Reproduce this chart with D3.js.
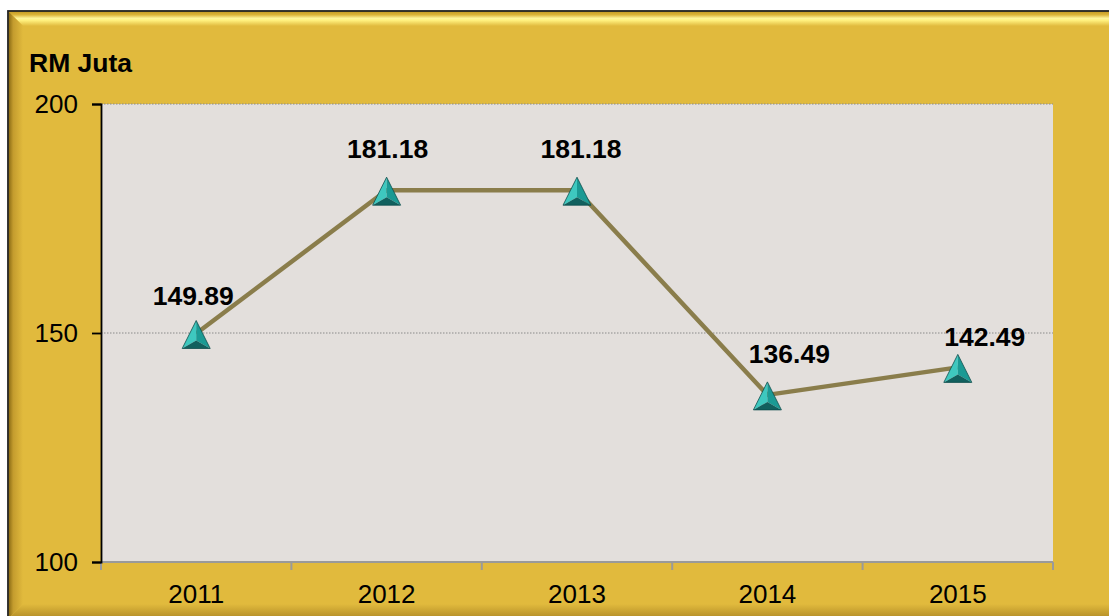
<!DOCTYPE html>
<html>
<head>
<meta charset="utf-8">
<script src="https://cdn.jsdelivr.net/npm/d3@7"></script>
<style>
  body { margin: 0; background: #ffffff; }
  svg text { font-family: "Liberation Sans", Arial, sans-serif; fill: #000; }
</style>
</head>
<body>
<div id="chart"></div>
<script>
// data
const YEARS = ["2011", "2012", "2013", "2014", "2015"];
const VALUES = [149.89, 181.18, 181.18, 136.49, 142.49];
const Y_TICKS = [100, 150, 200];
const Y_LABEL = "RM Juta";

const SVG_WIDTH = 1109;
const SVG_HEIGHT = 616;
const PLOT_LEFT = 101;
const PLOT_RIGHT = 1053;
const PLOT_TOP = 104;
const PLOT_BOTTOM = 562;
const GOLD = "#e1ba3d";

const svg = d3.select("#chart")
  .append("svg")
  .attr("width", SVG_WIDTH)
  .attr("height", SVG_HEIGHT);

const defs = svg.append("defs");

function linGrad(id, x2, y2, stops) {
  const g = defs.append("linearGradient")
    .attr("id", id)
    .attr("x1", 0).attr("y1", 0)
    .attr("x2", x2).attr("y2", y2);
  stops.forEach(s => g.append("stop").attr("offset", s[0]).attr("stop-color", s[1]));
}
linGrad("topBevel", 0, 1, [[0, "#c99f26"], [0.2, "#dcb43a"], [0.45, "#fff59a"], [0.6, "#fff07e"], [1, GOLD]]);
linGrad("leftBevel", 1, 0, [[0, "#8f6f16"], [0.3, "#c49c2e"], [1, GOLD]]);
linGrad("bottomBevel", 0, 1, [[0, GOLD], [1, "#b38d27"]]);

// frame with bevel
const fx0 = 8, fy0 = 11, fx1 = SVG_WIDTH + 20, fy1 = SVG_HEIGHT + 20;
const bw = 14;
svg.append("rect")
  .attr("x", fx0).attr("y", fy0)
  .attr("width", fx1 - fx0).attr("height", fy1 - fy0)
  .attr("fill", GOLD)
  .attr("stroke", "#222")
  .attr("stroke-width", 1.8);

svg.append("polygon")
  .attr("points", [[fx0 + 1, fy0 + 1], [fx1, fy0 + 1], [fx1, fy0 + 1 + bw], [fx0 + 1 + bw, fy0 + 1 + bw]].join(" "))
  .attr("fill", "url(#topBevel)");
svg.append("polygon")
  .attr("points", [[fx0 + 1, fy0 + 1], [fx0 + 1 + bw, fy0 + 1 + bw], [fx0 + 1 + bw, 604], [fx0 + 1, 618]].join(" "))
  .attr("fill", "url(#leftBevel)");
svg.append("polygon")
  .attr("points", [[fx0 + 1 + bw, 604], [fx1, 604], [fx1, 618], [fx0 + 1, 618]].join(" "))
  .attr("fill", "url(#bottomBevel)");

// scales
const xScale = d3.scaleBand().domain(YEARS).range([PLOT_LEFT, PLOT_RIGHT]);
const yScale = d3.scaleLinear().domain([100, 200]).range([PLOT_BOTTOM, PLOT_TOP]);

// plot area
svg.append("rect")
  .attr("x", PLOT_LEFT).attr("y", PLOT_TOP)
  .attr("width", PLOT_RIGHT - PLOT_LEFT)
  .attr("height", PLOT_BOTTOM - PLOT_TOP)
  .attr("fill", "#e3dfdc");

// gridlines
svg.append("g")
  .selectAll("line")
  .data(Y_TICKS.filter(d => d > 100))
  .enter()
  .append("line")
  .attr("x1", PLOT_LEFT).attr("x2", PLOT_RIGHT)
  .attr("y1", d => yScale(d)).attr("y2", d => yScale(d))
  .attr("stroke", "#8a8a8a")
  .attr("stroke-width", 1)
  .attr("stroke-dasharray", "1.5,1.5");

// x axis (ticks between categories)
const xAxis = svg.append("g")
  .attr("class", "x-axis")
  .attr("transform", `translate(0, ${PLOT_BOTTOM})`);
xAxis.append("line")
  .attr("x1", PLOT_LEFT).attr("x2", PLOT_RIGHT)
  .attr("stroke", "#9a9a9a").attr("stroke-width", 2);
xAxis.selectAll(".tick")
  .data(YEARS.concat(["end"]))
  .enter()
  .append("line")
  .attr("x1", (d, i) => i < YEARS.length ? xScale(d) : xScale(YEARS[YEARS.length - 1]) + xScale.bandwidth())
  .attr("x2", (d, i) => i < YEARS.length ? xScale(d) : xScale(YEARS[YEARS.length - 1]) + xScale.bandwidth())
  .attr("y1", 0).attr("y2", 8)
  .attr("stroke", "#9a9a9a").attr("stroke-width", 2);
xAxis.selectAll("text")
  .data(YEARS)
  .enter()
  .append("text")
  .attr("x", d => xScale(d) + xScale.bandwidth() / 2)
  .attr("y", 41)
  .attr("text-anchor", "middle")
  .style("font-size", "26px")
  .text(d => d);

// y axis
const yAxis = svg.append("g")
  .attr("class", "y-axis")
  .attr("transform", `translate(${PLOT_LEFT}, 0)`)
  .call(d3.axisLeft(yScale).tickValues(Y_TICKS).tickSize(9).tickPadding(14));
yAxis.select(".domain").attr("stroke", "#000").attr("stroke-width", 1.8);
yAxis.selectAll(".tick line").attr("stroke", "#000").attr("stroke-width", 1.8);
yAxis.selectAll(".tick text")
  .style("font-size", "26px")
  .style("font-family", "Liberation Sans, Arial, sans-serif")
  .attr("fill", "#000");

// y label
svg.append("text")
  .attr("x", 29).attr("y", 72)
  .style("font-size", "26.5px")
  .style("font-weight", "bold")
  .text(Y_LABEL);

// line
const cx = d => xScale(d) + xScale.bandwidth() / 2;
const d3line = d3.line()
  .x((d, i) => cx(YEARS[i]))
  .y(d => yScale(d));
svg.append("path")
  .datum(VALUES)
  .attr("d", d3line)
  .attr("fill", "none")
  .attr("stroke", "#8a7d4b")
  .attr("stroke-width", 4.5)
  .attr("stroke-linejoin", "round");

// 3d triangle markers
const faces = [
  { pts: [[0, -13], [-14, 15], [0, 7]], fill: "#3ec8bf" },
  { pts: [[0, -13], [14, 15], [0, 7]], fill: "#1b9a94" },
  { pts: [[-14, 15], [14, 15], [0, 7]], fill: "#11605e" }
];
const markers = svg.append("g")
  .selectAll("g")
  .data(VALUES)
  .enter()
  .append("g")
  .attr("transform", (d, i) => `translate(${cx(YEARS[i])}, ${yScale(d)})`);
faces.forEach(f => {
  markers.append("polygon")
    .attr("points", f.pts.join(" "))
    .attr("fill", f.fill);
});
markers.append("polygon")
  .attr("points", "0,-13 -14,15 14,15")
  .attr("fill", "none")
  .attr("stroke", "#0e4e4c")
  .attr("stroke-width", 0.8);

// data labels (manual nudges as in the original)
const LABEL_DX = [-3, 1, 4, 22, 27];
const LABEL_DY = [-29, -32, -32, -32, -21];
svg.append("g")
  .selectAll("text")
  .data(VALUES)
  .enter()
  .append("text")
  .attr("x", (d, i) => cx(YEARS[i]) + LABEL_DX[i])
  .attr("y", (d, i) => yScale(d) + LABEL_DY[i])
  .attr("text-anchor", "middle")
  .style("font-size", "26.5px")
  .style("font-weight", "bold")
  .text(d => d.toFixed(2));
</script>
</body>
</html>
